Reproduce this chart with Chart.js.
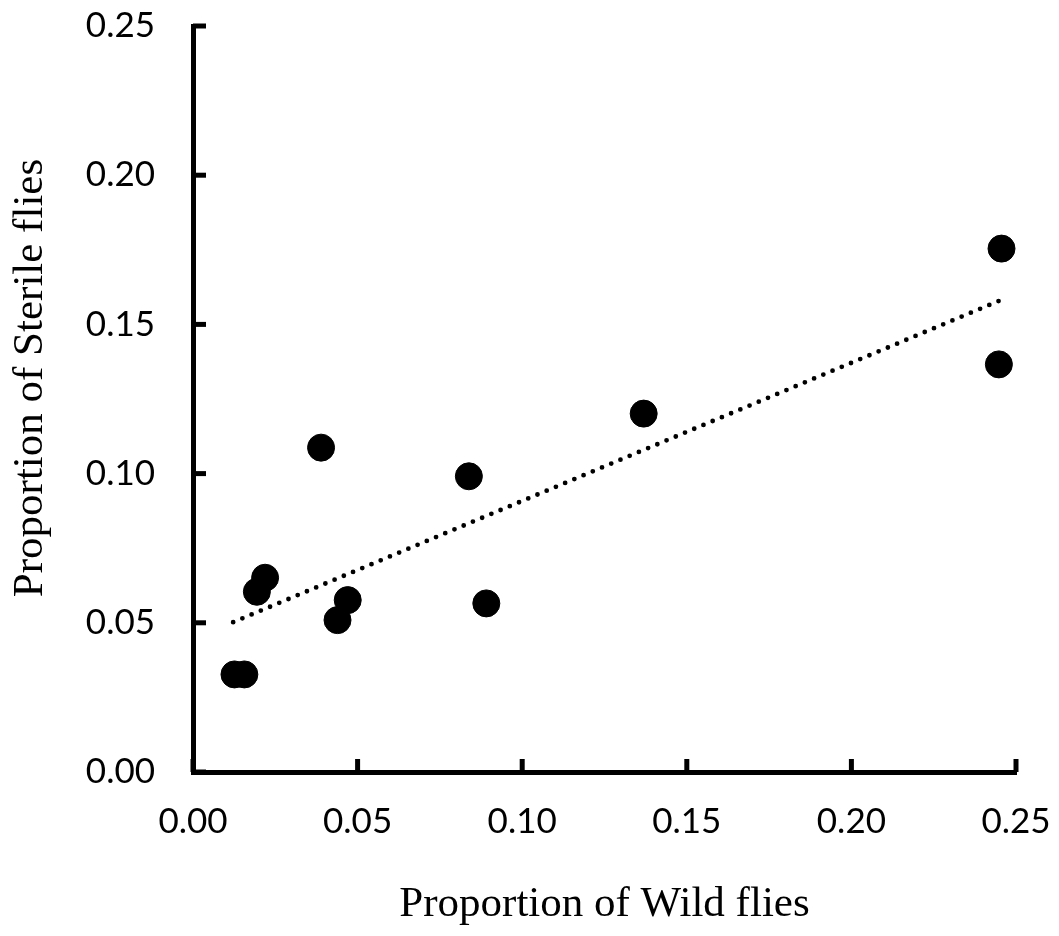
<!DOCTYPE html>
<html>
<head>
<meta charset="utf-8">
<script src="https://cdn.jsdelivr.net/npm/chart.js@4.4.0/dist/chart.umd.min.js"></script>
<style>
  html, body { margin: 0; padding: 0; background: #fff; }
  #wrap { width: 1059px; height: 936px; position: relative; }
</style>
</head>
<body>
<div id="wrap"><canvas id="c"></canvas></div>
<script>
// Observed data: proportion of wild flies (x) vs proportion of sterile flies (y)
const wildProportion = [0.0126, 0.0156, 0.0194, 0.0219, 0.0389, 0.0439, 0.0470, 0.0838, 0.0891, 0.1369, 0.2448, 0.2456];
const sterileProportion = [0.0327, 0.0327, 0.0604, 0.0651, 0.1087, 0.0509, 0.0576, 0.0991, 0.0565, 0.1201, 0.1366, 0.1754];

// Linear trendline endpoints
const trendX = [0.0122, 0.2453];
const trendY = [0.0502, 0.1581];

// Axis tick values
const xTicks = [0.00, 0.05, 0.10, 0.15, 0.20, 0.25];
const yTicks = [0.00, 0.05, 0.10, 0.15, 0.20, 0.25];

const xTitle = 'Proportion of Wild flies';
const yTitle = 'Proportion of Sterile flies';

const points = wildProportion.map((x, i) => ({ x: x, y: sterileProportion[i] }));
const trend = trendX.map((x, i) => ({ x: x, y: trendY[i] }));

const tickFont = { family: 'Lato', size: 35 };
const titleFont = { family: 'Liberation Serif', size: 43 };

const innerTicks = {
  id: 'innerTicks',
  afterDraw(chart) {
    const ctx = chart.ctx;
    const xs = chart.scales.x, ys = chart.scales.y;
    const area = chart.chartArea;
    ctx.save();
    ctx.strokeStyle = '#000';
    ctx.lineWidth = 5;
    ctx.lineCap = 'butt';
    xTicks.forEach(v => {
      const px = xs.getPixelForValue(v);
      ctx.beginPath();
      ctx.moveTo(px, area.bottom);
      ctx.lineTo(px, area.bottom - 13);
      ctx.stroke();
    });
    yTicks.forEach(v => {
      const py = ys.getPixelForValue(v);
      ctx.beginPath();
      ctx.moveTo(area.left, py);
      ctx.lineTo(area.left + 13, py);
      ctx.stroke();
    });
    // Y axis title, placed slightly above the centre as in the original
    ctx.fillStyle = '#000';
    ctx.font = titleFont.size + 'px "' + titleFont.family + '"';
    ctx.textAlign = 'center';
    ctx.textBaseline = 'middle';
    ctx.translate(31, ys.getPixelForValue(0.125) - 21);
    ctx.rotate(-Math.PI / 2);
    ctx.fillText(yTitle, 0, 0);
    ctx.restore();
  }
};

new Chart(document.getElementById('c'), {
  type: 'scatter',
  data: {
    datasets: [
      {
        type: 'line',
        data: trend,
        borderColor: '#000',
        borderWidth: 4.8,
        borderDash: [0, 10],
        borderCapStyle: 'round',
        pointRadius: 0,
        fill: false,
        order: 2
      },
      {
        data: points,
        backgroundColor: '#000',
        borderColor: '#000',
        pointRadius: 13.5,
        pointHoverRadius: 13.5,
        order: 1
      }
    ]
  },
  plugins: [innerTicks],
  options: {
    responsive: true,
    maintainAspectRatio: false,
    animation: false,
    events: [],
    layout: { padding: { left: 0, top: 26, right: 43, bottom: 0 } },
    plugins: { legend: { display: false }, tooltip: { enabled: false } },
    scales: {
      x: {
        type: 'linear',
        min: 0, max: 0.25,
        afterBuildTicks(scale) { scale.ticks = xTicks.map(v => ({ value: v })); },
        afterFit(scale) { scale.height = 164; scale.paddingLeft = 0; scale.paddingRight = 0; },
        ticks: {
          color: '#000',
          font: tickFont,
          padding: 29,
          maxRotation: 0,
          callback: v => v.toFixed(2)
        },
        grid: { drawOnChartArea: false, drawTicks: false },
        border: { display: true, color: '#000', width: 5 },
        title: {
          display: true,
          text: xTitle,
          color: '#000',
          font: titleFont,
          padding: { top: 0, bottom: 5 }
        }
      },
      y: {
        type: 'linear',
        min: 0, max: 0.25,
        afterBuildTicks(scale) { scale.ticks = yTicks.map(v => ({ value: v })); },
        afterFit(scale) { scale.width = 193; scale.paddingTop = 0; scale.paddingBottom = 0; },
        ticks: {
          color: '#000',
          font: tickFont,
          padding: 38,
          callback: v => v.toFixed(2)
        },
        grid: { drawOnChartArea: false, drawTicks: false },
        border: { display: true, color: '#000', width: 5 },
        title: { display: false }
      }
    }
  }
});
</script>
</body>
</html>
